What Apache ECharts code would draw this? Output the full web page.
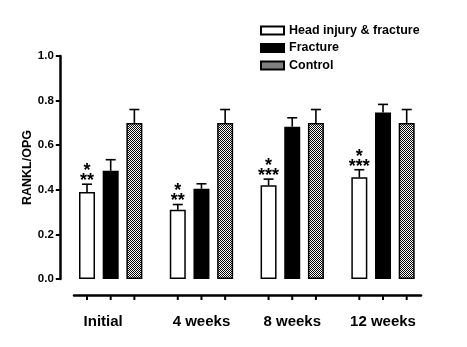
<!DOCTYPE html>
<html>
<head>
<meta charset="utf-8">
<script src="https://cdn.jsdelivr.net/npm/echarts@6/dist/echarts.min.js"></script>
<style>
  html, body { margin: 0; padding: 0; background: #fff; }
  #chart { width: 467px; height: 347px; }
</style>
</head>
<body>
<div id="chart"></div>
<script>
// Time points and groups
const categories = ['Initial', '4 weeks', '8 weeks', '12 weeks'];
const seriesNames = ['Head injury & fracture', 'Fracture', 'Control'];

// RANKL/OPG means and SEM (upper whisker)
const headInjury = [0.39, 0.31, 0.42, 0.456];
const headInjuryErr = [0.035, 0.024, 0.028, 0.034];
const fracture = [0.485, 0.405, 0.683, 0.747];
const fractureErr = [0.05, 0.022, 0.04, 0.036];
const control = [0.70, 0.70, 0.70, 0.70];
const controlErr = [0.06, 0.06, 0.06, 0.06];

// Significance marks above the head-injury bars
const sigUpper = ['*', '*', '*', '*'];
const sigLower = ['**', '**', '***', '***'];

// Y axis range
const yMin = 0, yMax = 1.0, yStep = 0.2;

const FONT = '"Liberation Sans", Arial, sans-serif';
const BAR_W = 16;
const BAR_GAP = 0.48;
const STEP = BAR_W * (1 + BAR_GAP);

// Fine checkerboard fill for the control bars
const tile = document.createElement('canvas');
tile.width = 2; tile.height = 2;
const tctx = tile.getContext('2d');
tctx.fillStyle = '#ffffff'; tctx.fillRect(0, 0, 2, 2);
tctx.fillStyle = '#000000'; tctx.fillRect(0, 0, 1, 1); tctx.fillRect(1, 1, 1, 1);
const checker = { image: tile, repeat: 'repeat' };

const means = [headInjury, fracture, control];
const errs = [headInjuryErr, fractureErr, controlErr];
const fills = ['#ffffff', '#000000', checker];

function makeRender(sIdx) {
  return function (params, api) {
    const i = api.value(0);
    const v = api.value(1);
    const e = api.value(2);
    const top = api.coord([i, v]);
    const x = top[0] + (sIdx - 1) * STEP;
    const yErr = api.coord([i, v + e])[1];
    const y0 = api.coord([i, 0])[1];
    const ls = { stroke: '#000', lineWidth: 1.6 };
    const children = [
      { type: 'line', shape: { x1: x, y1: top[1], x2: x, y2: yErr }, style: ls },
      { type: 'line', shape: { x1: x - 5, y1: yErr, x2: x + 5, y2: yErr }, style: ls },
      { type: 'line', shape: { x1: x, y1: y0 + 16, x2: x, y2: y0 + 21 }, style: { stroke: '#000', lineWidth: 2 } }
    ];
    if (sIdx === 0) {
      const st = { align: 'center', verticalAlign: 'middle', fontSize: 18, fontWeight: 'bold', fontFamily: FONT, fill: '#000' };
      children.push({ type: 'text', style: Object.assign({ text: sigUpper[i], x: x, y: yErr - 13 }, st) });
      children.push({ type: 'text', style: Object.assign({ text: sigLower[i], x: x, y: yErr - 3 }, st) });
    }
    return { type: 'group', children: children };
  };
}

const barSeries = seriesNames.map((name, s) => ({
  name: name,
  type: 'bar',
  xAxisIndex: 0, yAxisIndex: 0,
  barWidth: BAR_W,
  barGap: (BAR_GAP * 100) + '%',
  data: means[s],
  itemStyle: { color: fills[s], borderColor: '#000', borderWidth: 1.5 },
  z: 2
}));

const errSeries = seriesNames.map((name, s) => ({
  type: 'custom',
  name: name + ' SEM',
  xAxisIndex: 0, yAxisIndex: 0,
  renderItem: makeRender(s),
  data: means[s].map((v, i) => [i, v, errs[s][i]]),
  z: 5,
  silent: true
}));

const chart = echarts.init(document.getElementById('chart'));
chart.setOption({
  animation: false,
  backgroundColor: '#fff',
  textStyle: { fontFamily: FONT },
  legend: {
    data: seriesNames,
    orient: 'vertical',
    left: 260, top: 24,
    padding: 0,
    itemWidth: 23, itemHeight: 8, itemGap: 4.5,
    icon: 'rect',
    textStyle: { fontSize: 12.5, fontWeight: 'bold', color: '#000', lineHeight: 13, fontFamily: FONT }
  },
  grid: [
    { left: 65.3, right: 38.6, top: 56, bottom: 68 },
    { left: 74, right: 46, top: 56, bottom: 52 }
  ],
  xAxis: [
    {
      type: 'category', gridIndex: 0,
      data: categories.map((c, i) => i === 0 ? { value: c, textStyle: { padding: [0, 15, 0, 0] } } : c),
      axisLine: { show: false }, axisTick: { show: false },
      axisLabel: { margin: 35, fontSize: 15, fontWeight: 'bold', color: '#000', fontFamily: FONT }
    },
    {
      type: 'value', gridIndex: 1, min: 0, max: 1,
      axisLine: { show: true, onZero: false, lineStyle: { color: '#000', width: 2.5 } },
      axisTick: { show: false }, axisLabel: { show: false }, splitLine: { show: false }
    }
  ],
  yAxis: [
    {
      type: 'value', gridIndex: 0,
      min: yMin, max: yMax, interval: yStep,
      offset: 5.5,
      name: 'RANKL/OPG', nameLocation: 'middle', nameGap: 26, nameRotate: 90,
      nameMoveOverlap: false,
      nameTextStyle: { fontSize: 12.5, fontWeight: 'bold', color: '#000', fontFamily: FONT },
      axisLine: { show: true, lineStyle: { color: '#000', width: 2.5 } },
      axisTick: { show: true, length: 4, lineStyle: { color: '#000', width: 2 } },
      axisLabel: { margin: 6, fontSize: 11.5, fontWeight: 'bold', color: '#000', fontFamily: FONT, formatter: v => v.toFixed(1) },
      splitLine: { show: false }
    },
    { type: 'value', gridIndex: 1, min: 0, max: 1, show: false }
  ],
  series: barSeries.concat(errSeries)
});
</script>
</body>
</html>
